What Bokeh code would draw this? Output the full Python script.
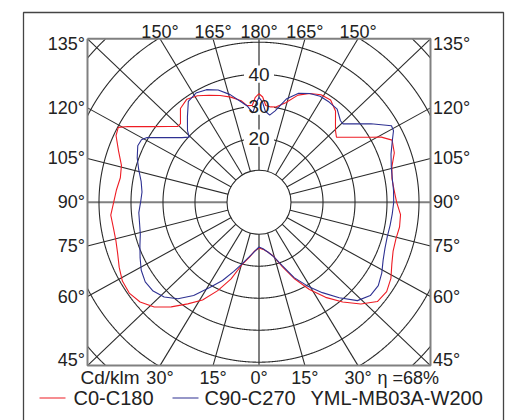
import numpy as np
from bokeh.plotting import figure
from bokeh.models import Range1d
from bokeh.embed import file_html
from bokeh.resources import INLINE
from bokeh.core.properties import value

# ---------------- data (cd/klm) ----------------
gamma = [0, 5, 10, 15, 20, 25, 30, 35, 40, 45, 50, 55, 60, 65, 70, 75, 80, 85, 90,
         95, 100, 105, 110, 115, 118, 120, 125, 130, 133, 135, 140, 145, 150, 155,
         160, 165, 170, 173, 176, 178, 180]

c0_c180_left = [14.3, 15.3, 17.5, 20.0, 25.5, 30.5, 35.3, 38.8, 42.7, 46.3, 48.5, 49.5, 49.3,
                48.2, 47.0, 46.3, 46.2, 46.5, 45.4, 44.7, 44.0, 44.5, 46.7, 49.3, 49.8, 47.3,
                41.2, 36.8, 34.7, 34.7, 38.2, 39.3, 38.4, 36.9, 35.5, 34.0, 32.2, 30.4, 30.3,
                32.8, 33.9]
c0_c180_right = [14.3, 14.8, 15.8, 17.5, 21.5, 26.5, 31.5, 36.3, 40.7, 45.0, 48.3, 48.7, 47.6,
                 45.8, 44.6, 44.3, 44.6, 44.4, 43.0, 42.4, 42.2, 43.0, 45.0, 45.9, 43.3, 40.6,
                 35.4, 31.6, 32.7, 33.8, 37.2, 39.0, 38.8, 37.5, 35.6, 32.2, 30.2, 30.0, 30.3,
                 32.9, 33.9]
c90_c270_left = [14.0, 15.4, 17.3, 19.8, 23.0, 27.0, 30.8, 35.6, 39.4, 41.9, 43.2, 43.4, 42.5,
                 41.0, 39.6, 38.4, 37.9, 37.7, 37.0, 36.7, 37.4, 38.9, 40.5, 41.8, 41.6, 40.4,
                 35.2, 31.4, 29.8, 31.6, 34.8, 38.5, 39.4, 38.8, 37.3, 34.8, 31.8, 30.3, 28.0,
                 30.5, 32.8]
c90_c270_right = [14.0, 14.6, 15.8, 17.6, 21.0, 26.0, 30.2, 34.5, 39.0, 43.5, 45.4, 45.5, 44.3,
                  42.8, 41.9, 41.5, 41.6, 41.8, 42.1, 42.2, 42.3, 42.8, 43.9, 46.0, 47.6, 47.8,
                  42.7, 38.1, 35.9, 36.0, 38.0, 38.2, 38.2, 37.5, 36.2, 33.5, 29.0, 27.4, 28.5,
                  31.3, 32.8]

series_names = ["C0-C180", "C90-C270"]
series_colors = ["#ee1c24", "#2e3192"]

ring_values = [20, 30, 40, 50, 60, 70]
ring_label_values = [20, 30, 40]
grid_angles = list(range(0, 360, 15))

side_angles = [135, 120, 105, 90, 75, 60, 45]
side_labels = ["135°", "120°", "105°", "90°", "75°", "60°", "45°"]
top_angles = [150, 165, 180, 165, 150]
top_sides = [-1, -1, 0, 1, 1]
top_labels = ["150°", "165°", "180°", "165°", "150°"]
bottom_angles = [30, 15, 0, 15, 30]
bottom_sides = [-1, -1, 0, 1, 1]
bottom_labels = ["30°", "15°", "0°", "15°", "30°"]
unit_text = "Cd/klm"
eta_text = "η =68%"
model_text = "YML-MB03A-W200"

# ---------------- layout ----------------
W, H = 514, 420
PX = 3.2                         # pixels per cd/klm
CX, CY = 258.5, 201.7            # centre of the diagram on the canvas
HW, HH = 171.5 / PX, 163.4 / PX  # half sizes of the square frame


def ux(px):
    return (px - CX) / PX


def uy(py):
    return (CY - py) / PX


FONT = value("Liberation Sans")
TXT = "#222222"
GRID = "#2a2a2a"

p = figure(width=W, height=H, output_backend="svg", toolbar_location=None,
           x_axis_type=None, y_axis_type=None,
           x_range=Range1d(-CX / PX, (W - CX) / PX),
           y_range=Range1d(-(H - CY) / PX, CY / PX),
           min_border=0, min_border_left=0, min_border_right=0,
           min_border_top=0, min_border_bottom=0)
p.grid.visible = False
p.outline_line_color = None
p.background_fill_color = "white"
p.border_fill_color = "white"


def edge_point(theta_deg, side):
    t = np.radians(theta_deg)
    u = side * np.sin(t)
    v = -np.cos(t)
    m = max(abs(u), abs(v))
    return u / m * HW, v / m * HH


# radial lines
xs, ys = [], []
axs, ays = [], []
for a in grid_angles:
    side = 1 if a <= 180 else -1
    th = a if a <= 180 else 360 - a
    ex, ey = edge_point(th, side)
    if a % 90 == 0:
        axs.append([0, ex]); ays.append([0, ey])
    else:
        xs.append([0, ex]); ys.append([0, ey])
p.multi_line(xs, ys, line_color=GRID, line_width=1.1)
p.multi_line(axs, ays, line_color="#808080", line_width=2)

# rings clipped to the frame
phi = np.linspace(0, 2 * np.pi, 2881)
rx, ry = [], []
for r in ring_values:
    x = r * np.cos(phi)
    y = r * np.sin(phi)
    inside = (np.abs(x) <= HW) & (np.abs(y) <= HH)
    seg_x, seg_y = [], []
    for xi, yi, ok in zip(x, y, inside):
        if ok:
            seg_x.append(xi); seg_y.append(yi)
        elif seg_x:
            rx.append(seg_x); ry.append(seg_y)
            seg_x, seg_y = [], []
    if seg_x:
        rx.append(seg_x); ry.append(seg_y)
p.multi_line(rx, ry, line_color=GRID, line_width=1.1)

# inner disc
p.circle(x=[0], y=[0], radius=10, fill_color="white", line_color=GRID, line_width=1.1)

# frame
p.multi_line([[-HW, HW, HW, -HW, -HW]], [[HH, HH, -HH, -HH, HH]],
             line_color="#808080", line_width=2)

# ring label backgrounds
p.rect(x=[0] * len(ring_label_values), y=ring_label_values, width=9.4, height=5.4,
       fill_color="white", line_color=None)

# curves
g = np.radians(np.array(gamma, dtype=float))
for left, right, col in [(c0_c180_left, c0_c180_right, series_colors[0]),
                         (c90_c270_left, c90_c270_right, series_colors[1])]:
    L = np.array(left); R = np.array(right)
    x = np.concatenate([(-L * np.sin(g))[::-1], R * np.sin(g)])
    y = np.concatenate([(-L * np.cos(g))[::-1], -R * np.cos(g)])
    p.line(x, y, line_color=col, line_width=1.1)

# ring labels
p.text(x=[0] * len(ring_label_values), y=ring_label_values,
       text=[str(v) for v in ring_label_values], text_align="center",
       text_baseline="middle", text_font=FONT, text_font_size="19px", text_color=TXT)

# side labels
sy = []
for a in side_angles:
    ex, ey = edge_point(a, -1)
    sy.append(float(np.clip(ey, -HH + 1.7, HH - 1.7)))
p.text(x=[ux(84.5)] * len(sy), y=sy, text=side_labels, text_align="right",
       text_baseline="middle", text_font=FONT, text_font_size="18px", text_color=TXT)
p.text(x=[ux(432.5)] * len(sy), y=sy, text=side_labels, text_align="left",
       text_baseline="middle", text_font=FONT, text_font_size="18px", text_color=TXT)

# top / bottom labels
tx = [edge_point(a, s if s != 0 else 1)[0] for a, s in zip(top_angles, top_sides)]
p.text(x=tx, y=[uy(31.5)] * len(tx), text=top_labels, text_align="center",
       text_baseline="middle", text_font=FONT, text_font_size="18px", text_color=TXT)
bx = [edge_point(a, s if s != 0 else 1)[0] for a, s in zip(bottom_angles, bottom_sides)]
p.text(x=bx, y=[uy(377)] * len(bx), text=bottom_labels, text_align="center",
       text_baseline="middle", text_font=FONT, text_font_size="18px", text_color=TXT)
p.text(x=[ux(80)], y=[uy(377)], text=[unit_text], text_align="left",
       text_baseline="middle", text_font=FONT, text_font_size="19px", text_color=TXT)
p.text(x=[ux(377)], y=[uy(377)], text=[eta_text], text_align="left",
       text_baseline="middle", text_font=FONT, text_font_size="18px", text_color=TXT)

# legend row
ly = uy(397.5)
p.line([ux(39), ux(65)], [ly, ly], line_color=series_colors[0], line_width=1.1)
p.line([ux(172), ux(198)], [ly, ly], line_color=series_colors[1], line_width=1.1)
p.text(x=[ux(73), ux(204), ux(310)], y=[ly] * 3,
       text=[series_names[0], series_names[1], model_text], text_align="left",
       text_baseline="middle", text_font=FONT, text_font_size="20px", text_color=TXT)

# outer frame
p.multi_line([[ux(23), ux(23), ux(503), ux(503)]], [[uy(440), uy(12), uy(12), uy(440)]],
             line_color="#444444", line_width=1.3)

open("out.html", "w").write(file_html(p, INLINE))
